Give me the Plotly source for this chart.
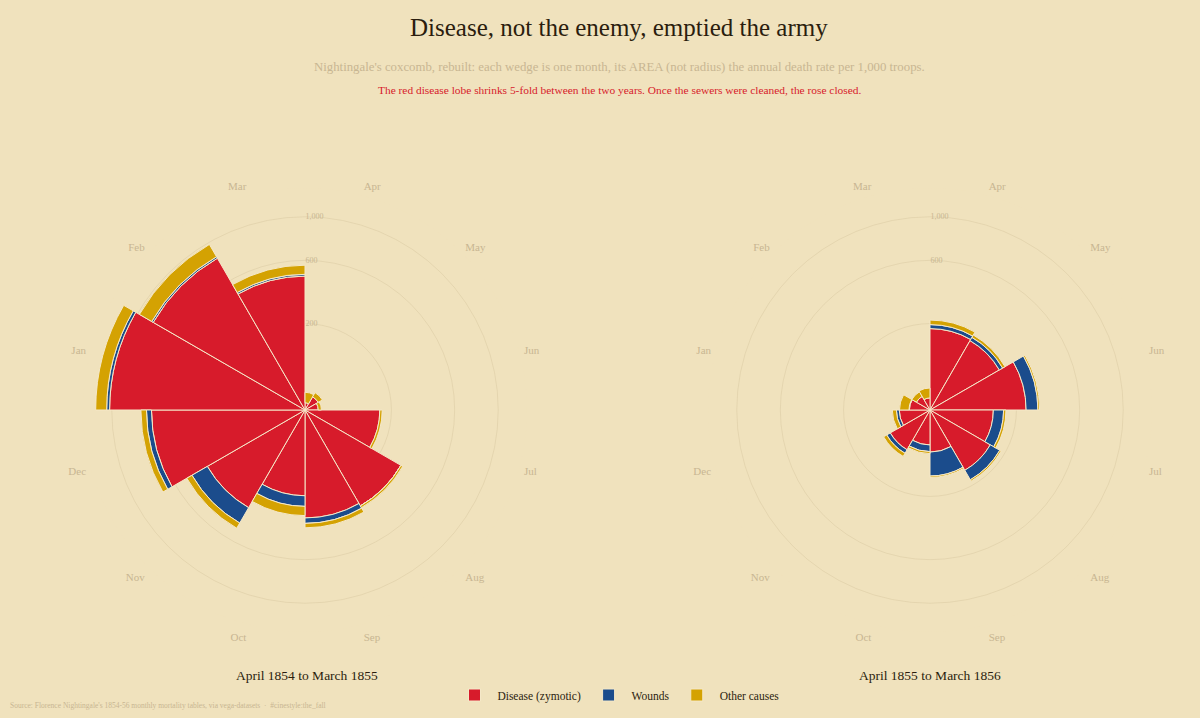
import numpy as np
import plotly.graph_objects as go

months = ["Apr", "May", "Jun", "Jul", "Aug", "Sep", "Oct", "Nov", "Dec", "Jan", "Feb", "Mar"]

# annual death rate per 1,000 troops
disease_y1 = [1.4, 6.2, 4.7, 150.0, 328.5, 312.2, 197.0, 340.6, 631.5, 1022.8, 822.8, 480.3]
wounds_y1 = [0.0, 0.0, 0.0, 0.0, 0.4, 32.1, 51.7, 115.8, 41.7, 30.7, 16.3, 12.8]
other_y1 = [7.0, 4.6, 2.5, 9.6, 11.9, 27.7, 50.1, 42.8, 48.0, 120.0, 140.1, 68.6]

disease_y2 = [177.5, 171.8, 247.6, 107.5, 129.9, 47.5, 32.8, 56.4, 25.3, 11.4, 6.6, 3.9]
wounds_y2 = [17.9, 16.6, 64.5, 37.7, 44.1, 69.4, 13.6, 10.5, 5.0, 0.5, 0.0, 0.0]
other_y2 = [21.2, 12.5, 9.6, 9.3, 6.7, 5.0, 4.6, 10.1, 7.8, 13.0, 5.2, 9.1]

radial_ticks = [200, 600, 1000]
radial_ticktext = ["200", "600", "1,000"]

BG = "rgb(240,226,189)"
RED = "#D71B2B"
BLUE = "#1B4C8C"
GOLD = "#D4A202"
EDGE = "rgb(245,232,200)"
TAN = "rgb(200,182,146)"
DARK = "#2B1D0E"
FONT = "Liberation Serif, EB Garamond, serif"
NB = "\u00a0"

theta = [15 + 30 * i for i in range(12)]

fig = go.Figure()


def add_rose(disease, wounds, other, polar, showlegend):
    d = np.array(disease)
    dw = d + np.array(wounds)
    dwo = dw + np.array(other)
    # area-true: radius proportional to sqrt(rate)
    layers = [
        ("Disease (zymotic)", RED, np.zeros(12), np.sqrt(d)),
        ("Wounds", BLUE, np.sqrt(d), np.sqrt(dw)),
        ("Other causes", GOLD, np.sqrt(dw), np.sqrt(dwo)),
    ]
    for name, color, lo, hi in layers:
        fig.add_trace(go.Barpolar(
            r=hi - lo, base=lo, theta=theta, width=[30] * 12,
            name=NB + name + NB, legendgroup=name, showlegend=showlegend,
            marker=dict(color=color, line=dict(color=EDGE, width=1)),
            subplot=polar, hovertemplate="%{theta}<extra>" + name + "</extra>",
        ))


add_rose(disease_y1, wounds_y1, other_y1, "polar", True)
add_rose(disease_y2, wounds_y2, other_y2, "polar2", False)

W, H = 1200, 718
R = 222
cy = 410


def dom(cx):
    return dict(x=[(cx - R) / W, (cx + R) / W], y=[(H - cy - R) / H, (H - cy + R) / H])


def polar_layout(cx):
    return dict(
        domain=dom(cx),
        bgcolor=BG,
        barmode="overlay",
        radialaxis=dict(
            range=[0, np.sqrt(1320)],
            tickvals=[np.sqrt(v) for v in radial_ticks],
            ticktext=radial_ticktext,
            angle=90, tickangle=90,
            showline=False, ticks="",
            gridcolor="rgba(205,188,150,0.35)", gridwidth=1,
            tickfont=dict(family=FONT, size=8, color=TAN),
            layer="below traces",
        ),
        angularaxis=dict(
            rotation=90, direction="clockwise",
            tickmode="array", tickvals=theta, ticktext=months,
            showgrid=False, showline=False, ticks="outside", ticklen=2,
            tickcolor="rgba(0,0,0,0)",
            tickfont=dict(family=FONT, size=11, color=TAN),
        ),
    )


XC = 619 / W

fig.update_layout(
    width=W, height=H,
    paper_bgcolor=BG, plot_bgcolor=BG,
    margin=dict(l=0, r=0, t=0, b=0),
    polar=polar_layout(305),
    polar2=polar_layout(930),
    showlegend=True,
    legend=dict(
        orientation="h", x=621 / W, xanchor="center", y=(H - 695) / H, yanchor="middle",
        font=dict(family=FONT, size=11.5, color=DARK),
        bgcolor="rgba(0,0,0,0)", itemwidth=30, traceorder="normal",
    ),
    font=dict(family=FONT),
    annotations=[
        dict(text="Disease, not the enemy, emptied the army", x=XC, y=(H - 28) / H,
             xref="paper", yref="paper", showarrow=False, xanchor="center", yanchor="middle",
             font=dict(family=FONT, size=25, color=DARK)),
        dict(text="Nightingale's coxcomb, rebuilt: each wedge is one month, its AREA (not radius) the annual death rate per 1,000 troops.",
             x=XC, y=(H - 67) / H, xref="paper", yref="paper", showarrow=False,
             xanchor="center", yanchor="middle",
             font=dict(family=FONT, size=12.8, color=TAN)),
        dict(text="The red disease lobe shrinks 5-fold between the two years. Once the sewers were cleaned, the rose closed.",
             x=XC, y=(H - 90) / H, xref="paper", yref="paper", showarrow=False,
             xanchor="center", yanchor="middle",
             font=dict(family=FONT, size=11.4, color=RED)),
        dict(text="April 1854 to March 1855", x=307 / W, y=(H - 675) / H,
             xref="paper", yref="paper", showarrow=False, xanchor="center", yanchor="middle",
             font=dict(family=FONT, size=13.5, color=DARK)),
        dict(text="April 1855 to March 1856", x=930 / W, y=(H - 675) / H,
             xref="paper", yref="paper", showarrow=False, xanchor="center", yanchor="middle",
             font=dict(family=FONT, size=13.5, color=DARK)),
        dict(text="Source: Florence Nightingale's 1854-56 monthly mortality tables, via vega-datasets  ·  #cinestyle:the_fall",
             x=8 / W, y=(H - 705) / H, xref="paper", yref="paper", showarrow=False,
             xanchor="left", yanchor="middle",
             font=dict(family=FONT, size=7.5, color=TAN)),
    ],
)

fig.write_html("out.html")
